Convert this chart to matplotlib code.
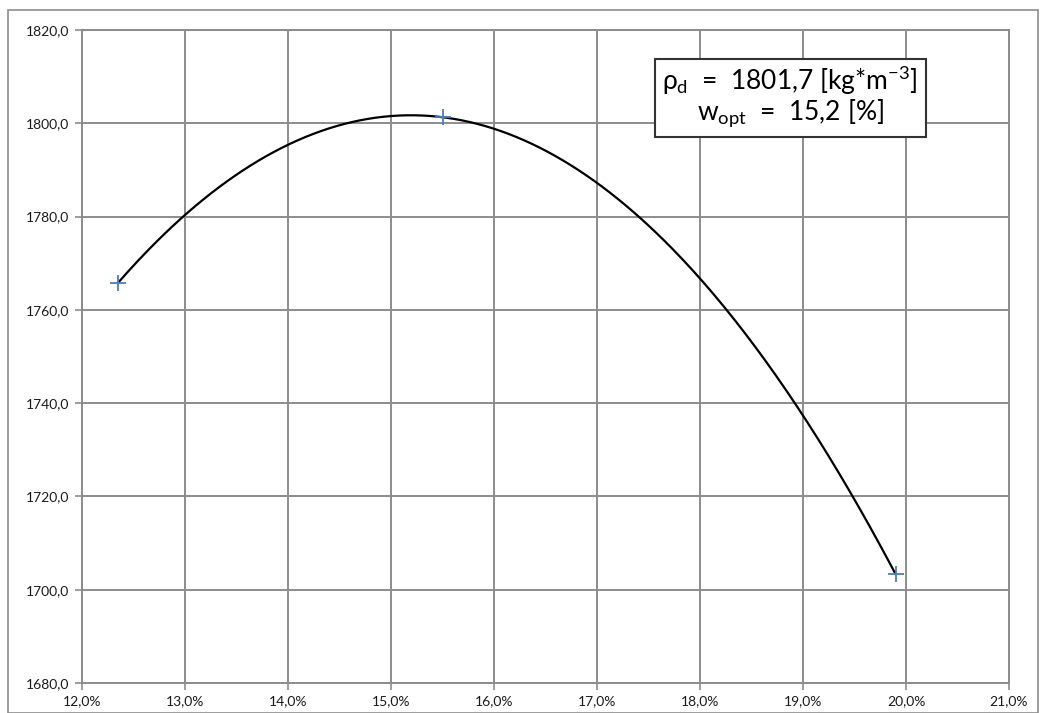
import numpy as np
import matplotlib
matplotlib.use('Agg')
import matplotlib.pyplot as plt
from matplotlib.ticker import FuncFormatter, MultipleLocator
from matplotlib.patches import Rectangle

# moisture content [%] and dry density [kg/m3]
w = [12.35, 15.50, 19.90]
rho_d = [1765.8, 1801.3, 1703.3]
rho_max = 1801.7
w_opt = 15.2

plt.rcParams['font.family'] = ['Lato', 'DejaVu Sans']
plt.rcParams['mathtext.fontset'] = 'custom'
plt.rcParams['mathtext.rm'] = 'Lato'
plt.rcParams['mathtext.it'] = 'Lato'

fig = plt.figure(figsize=(10.44, 7.13), dpi=100)
ax = fig.add_axes([82 / 1044, 30 / 713, 927 / 1044, 653 / 713])

# outer frame of the chart
fig.patches.append(Rectangle((8 / 1044, 0), 1030 / 1044, 703 / 713,
                             transform=fig.transFigure, fill=False,
                             edgecolor='#8c8c8c', linewidth=1.2))

# 2nd order polynomial through the measured points
coef = np.polyfit(w, rho_d, 2)
xs = np.linspace(min(w), max(w), 300)
ax.plot(xs, np.polyval(coef, xs), color='black', linewidth=1.6, zorder=3)
ax.plot(w, rho_d, linestyle='none', marker='+', markersize=12,
        markeredgewidth=1.3, color='#4a7ebb', zorder=4)

ax.set_xlim(12, 21)
ax.set_ylim(1680, 1820)
ax.xaxis.set_major_locator(MultipleLocator(1))
ax.yaxis.set_major_locator(MultipleLocator(20))
ax.xaxis.set_major_formatter(FuncFormatter(lambda v, p: f'{v:.1f}%'.replace('.', ',')))
ax.yaxis.set_major_formatter(FuncFormatter(lambda v, p: f'{v:.1f}'.replace('.', ',')))
ax.grid(True, color='#8c8c8c', linewidth=1.4)
ax.set_axisbelow(True)
for s in ax.spines.values():
    s.set_color('#8c8c8c')
    s.set_linewidth(1.4)
ax.tick_params(direction='out', length=5, color='#8c8c8c', width=1.2,
               labelsize=10, labelcolor='#1a1a1a', pad=4)

label = (r'$\rho_{\mathrm{d}}$  =  ' + f'{rho_max:.1f}'.replace('.', ',')
         + r' [kg*m$^{\mathrm{-3}}$]' + '\n'
         + r'$\mathrm{w}_{\mathrm{opt}}$  =  ' + f'{w_opt:.1f}'.replace('.', ',') + ' [%]')
ax.text(0.764, 0.898, label,
        transform=ax.transAxes, ha='center', va='center', fontsize=19,
        linespacing=1.0, color='black',
        bbox=dict(boxstyle='square,pad=0.3', facecolor='white',
                  edgecolor='#333333', linewidth=1.5))

fig.savefig('out.png', dpi=100)
